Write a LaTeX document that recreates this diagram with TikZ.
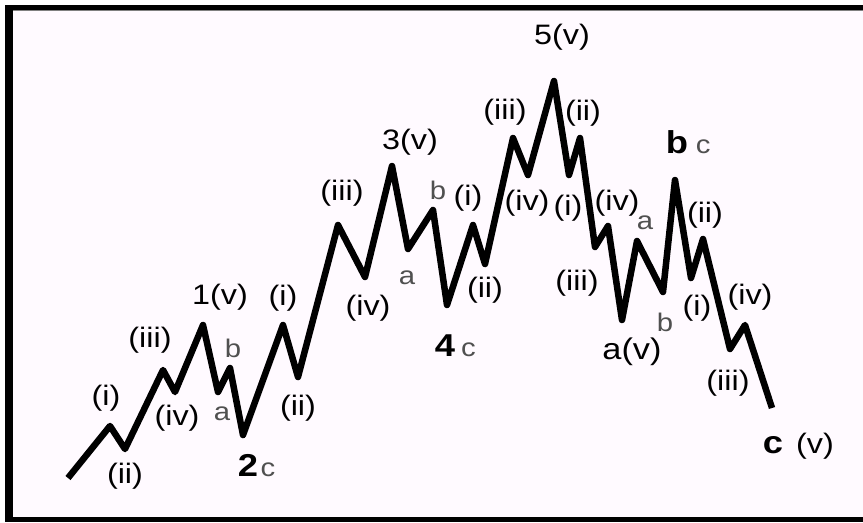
\documentclass[tikz,border=0pt]{standalone}
\usepackage{fontspec}
\setmainfont[FakeStretch=1.15]{Liberation Sans}
\usetikzlibrary{positioning}
\definecolor{paper}{RGB}{255,250,255}
\definecolor{minor}{RGB}{80,80,80}

\begin{document}
\begin{tikzpicture}[
		x=0.02cm, y=-0.02cm,
		font=\fontsize{16}{18}\selectfont,
		wave/.style={line width=3.7pt, line join=round},
		lab/.style={inner sep=0pt},
		sub/.style={inner sep=0pt, text=minor, font=\fontsize{14.5}{16}\selectfont},
		big/.style={inner sep=0pt, font=\fontsize{18}{20}\selectfont\bfseries}
		]
		
		% Frame
		\useasboundingbox (0,0) rectangle (863,522);
		\fill[white] (0,0) rectangle (863,522);
		\fill[paper] (13,10) rectangle (863,517);
		\fill (5,5) rectangle (13,522);
		\fill (5,5) rectangle (863,10);
		\draw[gray, line width=0.6pt] (13,10.8) -- (863,10.8);
		\fill (5,517) rectangle (863,522);
		
		% Wave turning points
		\coordinate (w0) at (68,478);
		\coordinate (w1) at (110,426);
		\coordinate (w2) at (125,449);
		\coordinate (w3) at (163,370);
		\coordinate (w4) at (175,392);
		\coordinate (w5) at (203,325);
		\coordinate (w6) at (218,392);
		\coordinate (w7) at (230,368);
		\coordinate (w8) at (243,435);
		\coordinate (w9) at (283,325);
		\coordinate (w10) at (298,377);
		\coordinate (w11) at (338,225);
		\coordinate (w12) at (365,277);
		\coordinate (w13) at (392,166);
		\coordinate (w14) at (408,249);
		\coordinate (w15) at (433,210);
		\coordinate (w16) at (447,305);
		\coordinate (w17) at (473,225);
		\coordinate (w18) at (485,264);
		\coordinate (w19) at (513,138);
		\coordinate (w20) at (528,175);
		\coordinate (w21) at (554,81);
		\coordinate (w22) at (569,175);
		\coordinate (w23) at (580,138);
		\coordinate (w24) at (595,247);
		\coordinate (w25) at (608,226);
		\coordinate (w26) at (622,320);
		\coordinate (w27) at (637,241);
		\coordinate (w28) at (663,292);
		\coordinate (w29) at (675,180);
		\coordinate (w30) at (691,278);
		\coordinate (w31) at (703,239);
		\coordinate (w32) at (730,349);
		\coordinate (w33) at (745,325);
		\coordinate (w34) at (772,408);
		
		% The wave
		\draw[wave] (w0) -- (w1) -- (w2) -- (w3) -- (w4) -- (w5) -- (w6) -- (w7)
		-- (w8) -- (w9) -- (w10) -- (w11) -- (w12) -- (w13) -- (w14) -- (w15)
		-- (w16) -- (w17) -- (w18) -- (w19) -- (w20) -- (w21) -- (w22) -- (w23)
		-- (w24) -- (w25) -- (w26) -- (w27) -- (w28) -- (w29) -- (w30) -- (w31)
		-- (w32) -- (w33) -- (w34);
		
		% Wave 1
		\node[lab] (oneI) at (106,398) {(i)};
		\node[lab] (oneII) at (125,476) {(ii)};
		\node[lab] (oneIII) at (150,340) {(iii)};
		\node[lab] (oneIV) at (177,418) {(iv)};
		\node[lab] (oneTop) at (220,297) {1(v)};
		
		% Wave 2
		\node[sub] (twoB) at (233,348) {b};
		\node[sub] (twoA) at (222,414) {a};
		\node[big] (twoBot) at (248,465) {2};
		\node[sub, base right=1pt of twoBot] (twoC) {c};
		
		% Wave 3
		\node[lab] (threeI) at (283,298) {(i)};
		\node[lab] (threeII) at (298,408) {(ii)};
		\node[lab] (threeIII) at (342,193) {(iii)};
		\node[lab] (threeIV) at (368,308) {(iv)};
		\node[lab] (threeTop) at (410,142) {3(v)};
		
		% Wave 4
		\node[sub] (fourA) at (407,278) {a};
		\node[sub] (fourB) at (438,190) {b};
		\node[big] (fourBot) at (445,346) {4};
		\node[sub, base right=3pt of fourBot] (fourC) {c};
		
		% Wave 5
		\node[lab] (fiveI) at (468,198) {(i)};
		\node[lab] (fiveII) at (485,290) {(ii)};
		\node[lab] (fiveIII) at (505,112) {(iii)};
		\node[lab] (fiveIV) at (527,203) {(iv)};
		\node[lab] (fiveTop) at (562,37) {5(v)};
		
		% Wave A
		\node[lab] (aI) at (568,208) {(i)};
		\node[lab] (aII) at (583,113) {(ii)};
		\node[lab] (aIII) at (577,283) {(iii)};
		\node[lab] (aIV) at (617,203) {(iv)};
		\node[lab, font=\fontsize{17}{19}\selectfont] (aBot) at (632,352) {a(v)};
		
		% Wave B
		\node[sub] (bA) at (645,223) {a};
		\node[sub] (bB) at (665,322) {b};
		\node[big] (bTop) at (677,142) {b};
		\node[sub, base right=4pt of bTop] (bC) {c};
		
		% Wave C
		\node[lab] (cI) at (697,308) {(i)};
		\node[lab] (cII) at (705,215) {(ii)};
		\node[lab] (cIII) at (728,383) {(iii)};
		\node[lab] (cIV) at (750,297) {(iv)};
		\node[big] (cBot) at (773,445) {c};
		\node[lab, base right=7pt of cBot] (cBotV) {(v)};
		
	\end{tikzpicture}
\end{document}
